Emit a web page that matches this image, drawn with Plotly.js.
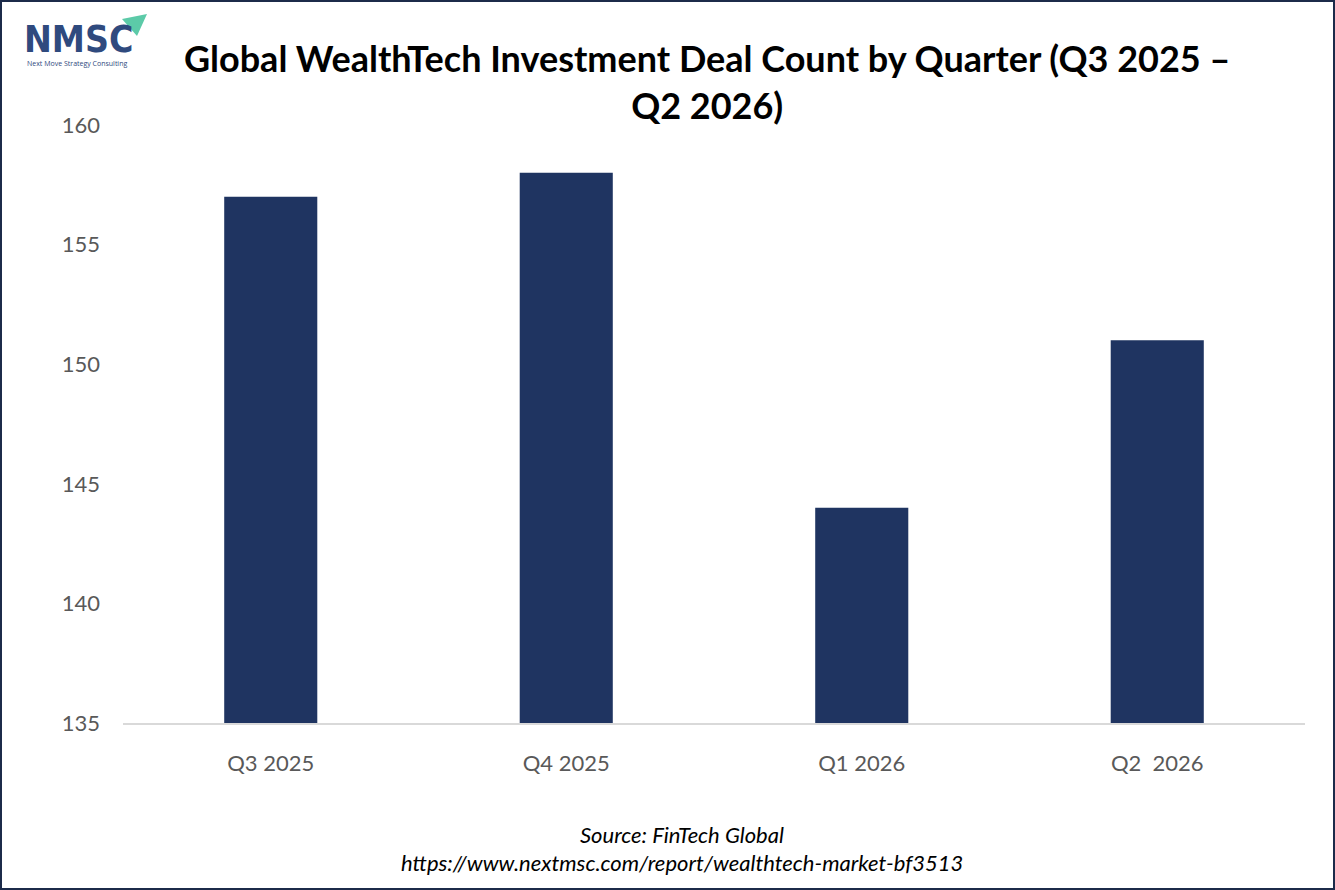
<!DOCTYPE html>
<html>
<head>
<meta charset="utf-8">
<script src="https://cdn.plot.ly/plotly-3.0.1.min.js"></script>
<style>
  html, body { margin: 0; padding: 0; background: #fff; }
  #frame { width: 1335px; height: 890px; box-sizing: border-box; border: 2px solid #1c2b4a; }
  #chart { width: 1331px; height: 886px; }
</style>
</head>
<body>
<div id="frame"><div id="chart"></div></div>
<script>
const categories = ["Q3 2025", "Q4 2025", "Q1 2026", "Q2  2026"];
const dealCounts = [157, 158, 144, 151];
const yTicks = [135, 140, 145, 150, 155, 160];

const W = 1331, H = 886, ML = 121, MR = 28, MT = 123, MB = 165;
// convert page pixel coordinates (outer frame) to paper coordinates
const PX = p => (p - 2 - ML) / (W - ML - MR);
const PY = p => (H - MB - (p - 2)) / (H - MT - MB);

const trace = {
  type: "bar",
  x: categories,
  y: dealCounts,
  marker: { color: "#1f3461" },
  hoverinfo: "x+y"
};

const layout = {
  width: W, height: H,
  margin: { l: ML, r: MR, t: MT, b: MB },
  paper_bgcolor: "#ffffff",
  plot_bgcolor: "#ffffff",
  bargap: 0.685,
  showlegend: false,
  font: { family: "Lato, 'Open Sans', sans-serif", color: "#595959" },
  xaxis: {
    type: "category",
    showline: true, linecolor: "#d9d9d9", linewidth: 2,
    showgrid: false, zeroline: false,
    ticks: "", ticklabelstandoff: 20,
    tickfont: { size: 22, color: "#595959" }
  },
  yaxis: {
    range: [135, 160],
    tickvals: yTicks,
    ticktext: yTicks.map(String),
    showgrid: false, zeroline: false, showline: false,
    ticks: "", ticklabelstandoff: 22,
    tickfont: { size: 22, color: "#595959" }
  },
  annotations: [
    {
      text: "<b>Global WealthTech Investment Deal Count by Quarter (Q3 2025 –<br>Q2 2026)</b>",
      xref: "paper", yref: "paper", x: PX(707), y: PY(82),
      xanchor: "center", yanchor: "middle", showarrow: false, align: "center",
      font: { family: "Lato, sans-serif", size: 36, color: "#000000" }
    },
    {
      text: "<i>Source: FinTech Global</i>",
      xref: "paper", yref: "paper", x: PX(682), y: PY(834),
      xanchor: "center", yanchor: "middle", showarrow: false,
      font: { family: "Lato, sans-serif", size: 22, color: "#000000" }
    },
    {
      text: "<i>https://www.nextmsc.com/report/wealthtech-market-bf3513</i>",
      xref: "paper", yref: "paper", x: PX(682), y: PY(862),
      xanchor: "center", yanchor: "middle", showarrow: false,
      font: { family: "Lato, sans-serif", size: 22, color: "#000000" }
    },
    {
      text: "<b>NMSC</b>",
      xref: "paper", yref: "paper", x: PX(22), y: PY(40),
      xanchor: "left", yanchor: "middle", showarrow: false,
      font: { family: "'DejaVu Sans Condensed', 'DejaVu Sans', sans-serif", size: 37, color: "#2f4a7e" }
    },
    {
      text: "Next Move Strategy Consulting",
      xref: "paper", yref: "paper", x: PX(25), y: PY(64),
      xanchor: "left", yanchor: "middle", showarrow: false,
      font: { family: "'Open Sans', sans-serif", size: 7, color: "#2f4a7e" }
    }
  ],
  shapes: [
    {
      type: "path", xref: "paper", yref: "paper",
      path: `M ${PX(122)} ${PY(19)} L ${PX(147)} ${PY(14)} L ${PX(137)} ${PY(36)} Z`,
      fillcolor: "#5ccaa8", line: { width: 0 }
    }
  ]
};

Plotly.newPlot("chart", [trace], layout, { displayModeBar: false });
</script>
</body>
</html>
